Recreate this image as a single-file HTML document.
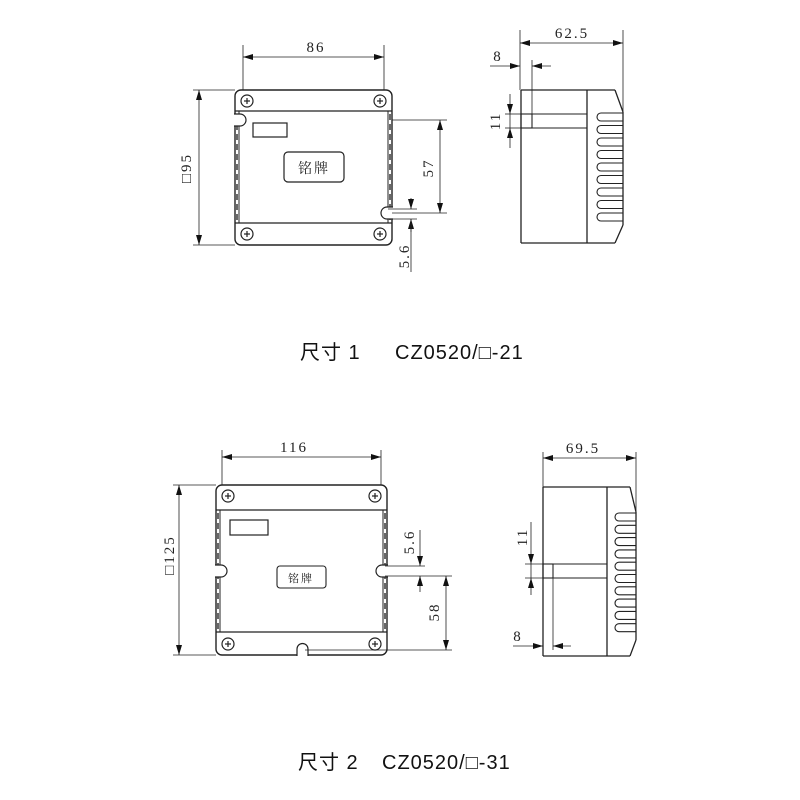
<!DOCTYPE html>
<html><head><meta charset="utf-8"><style>
html,body{margin:0;padding:0;background:#fff;width:800px;height:800px;overflow:hidden}
svg{display:block}
text{font-family:"Liberation Serif","Noto Serif CJK SC",serif;fill:#222}
.cap{font-family:"Liberation Sans","Noto Sans CJK SC",sans-serif;font-size:20px;fill:#111;letter-spacing:1px}
</style></head><body>
<svg id="s" width="800" height="800" viewBox="0 0 800 800" xmlns="http://www.w3.org/2000/svg">
<defs>
<marker id="a" viewBox="0 0 10 6" refX="10" refY="3" markerWidth="10" markerHeight="6" markerUnits="userSpaceOnUse" orient="auto-start-reverse"><path d="M0,0L10,3L0,6z" fill="#111"/></marker>
</defs>
<g id="g" stroke="#222" stroke-width="1" fill="none"></g>
<text class="cap" x="300" y="359">尺寸 1</text>
<text class="cap" x="395" y="359">CZ0520/□-21</text>
<text class="cap" x="298" y="769">尺寸 2</text>
<text class="cap" x="382" y="769">CZ0520/□-31</text>
</svg>
<script>
var g=document.getElementById('g'),s=document.getElementById('s'),NS='http://www.w3.org/2000/svg';
function el(t,a,p){var e=document.createElementNS(NS,t);for(var k in a)e.setAttribute(k,a[k]);(p||g).appendChild(e);return e;}
function L(x1,y1,x2,y2,w){return el('line',{x1:x1,y1:y1,x2:x2,y2:y2,'stroke-width':w||0.8});}
function D(x1,y1,x2,y2){el('line',{x1:x1,y1:y1,x2:x2,y2:y2,'stroke-width':0.8,'marker-start':'url(#a)','marker-end':'url(#a)'});}
function A(x1,y1,x2,y2){el('line',{x1:x1,y1:y1,x2:x2,y2:y2,'stroke-width':0.8,'marker-end':'url(#a)'});}
function T(x,y,t,sz,rot,anchor){var e=el('text',{x:x,y:y,'font-size':sz,'text-anchor':anchor||'middle',stroke:'none','letter-spacing':'2px'},s);if(rot)e.setAttribute('transform','rotate(-90 '+x+' '+y+')');e.textContent=t;}
function screw(x,y){el('circle',{cx:x,cy:y,r:6,'stroke-width':1.2});L(x-3,y,x+3,y,1.2);L(x,y-3,x,y+3,1.2);}
function front(x1,y1,x2,y2,b1,b2){
 el('rect',{x:x1,y:y1,width:x2-x1,height:y2-y1,rx:6,'stroke-width':1.4});
 L(x1,b1,x2,b1,1.2);L(x1,b2,x2,b2,1.2);
 L(x1+4,b1,x1+4,b2,1);L(x2-4,b1,x2-4,b2,1);
 el('line',{x1:x1+2,y1:b1+3,x2:x1+2,y2:b2-2,'stroke-width':1.6,'stroke-dasharray':'6 4',stroke:'#444'});
 el('line',{x1:x2-2,y1:b1+3,x2:x2-2,y2:b2-2,'stroke-width':1.6,'stroke-dasharray':'6 4',stroke:'#444'});
 screw(x1+12,y1+11);screw(x2-12,y1+11);screw(x1+12,y2-11);screw(x2-12,y2-11);
}
function slotL(x,y){el('path',{d:'M'+(x-2)+','+(y-6)+'H'+(x+4)+'A6,6 0 0 1 '+(x+4)+','+(y+6)+'H'+(x-2),'stroke-width':1.2,fill:'#fff'});}
function slotR(x,y){el('path',{d:'M'+(x+2)+','+(y-6)+'H'+(x-4)+'A6,6 0 0 0 '+(x-4)+','+(y+6)+'H'+(x+2),'stroke-width':1.2,fill:'#fff'});}
/* ---- view 1 front ---- */
front(235,90,392,245,111,223);
slotL(236,120);slotR(391,213);
el('rect',{x:253,y:123,width:34,height:14,'stroke-width':1.2});
el('rect',{x:284,y:152,width:60,height:30,rx:4,'stroke-width':1.2});
T(314,173,'铭牌',14,0);
L(243,45,243,90);L(384,45,384,90);D(243,57,384,57);T(316,52,'86',15);
L(193,90,235,90);L(193,245,235,245);D(199,90,199,245);T(191,168,'□95',15,1);
L(392,120,447,120);L(392,213,447,213);D(440,120,440,213);T(433,168,'57',15,1);
L(388,209,417,209);L(388,219,417,219);A(411,198,411,209);A(411,232,411,219);L(411,219,411,272);T(409,256,'5.6',15,1);
/* ---- view 1 side ---- */
L(521,90,587,90,1.3);L(521,243,587,243,1.3);L(521,90,521,243,1.3);L(587,90,587,243,1.3);
L(587,90,615,90,1.3);L(615,90,623,112,1.3);L(623,112,623,225,1.3);L(623,225,615,243,1.3);L(587,243,615,243,1.3);
el('rect',{x:521,y:114,width:11,height:14,'stroke-width':1.1});L(532,114,587,114,1.1);L(532,128,587,128,1.1);
for(var i=0;i<9;i++){var y=113+i*12.5;el('path',{d:'M623,'+y+'H601A4,4 0 0 0 601,'+(y+8)+'H623','stroke-width':1.1});}
L(520,30,520,90);L(623,30,623,112);D(520,43,623,43);T(572,38,'62.5',15);
L(532,60,532,114);A(490,66,520,66);A(551,66,532,66);T(498,61,'8',15);
L(505,114,521,114);L(505,128,521,128);A(510,94,510,114);A(510,148,510,128);L(510,114,510,128);T(500,121,'11',15,1);
/* ---- view 2 front ---- */
front(216,485,387,655,510,632);
slotL(217,571);slotR(386,571);
el('path',{d:'M297,656V649A5.5,5.5 0 0 1 308,649V656','stroke-width':1.2,fill:'#fff'});
el('rect',{x:230,y:520,width:38,height:15,'stroke-width':1.2});
el('rect',{x:277,y:566,width:49,height:22,rx:3,'stroke-width':1.1});
T(301,582,'铭牌',11,0);
L(222,450,222,485);L(381,450,381,485);D(222,457,381,457);T(294,452,'116',15);
L(173,485,216,485);L(173,655,216,655);D(179,485,179,655);T(174,555,'□125',15,1);
L(385,566,425,566);L(385,576,452,576);A(420,530,420,566);A(420,592,420,576);T(414,542,'5.6',15,1);
L(305,650,452,650);D(446,576,446,650);T(439,612,'58',15,1);
/* ---- view 2 side ---- */
L(543,487,607,487,1.3);L(543,656,607,656,1.3);L(543,487,543,656,1.3);L(607,487,607,656,1.3);
L(607,487,630,487,1.3);L(630,487,636,512,1.3);L(636,512,636,640,1.3);L(636,640,630,656,1.3);L(607,656,630,656,1.3);
el('rect',{x:543,y:564,width:10,height:14,'stroke-width':1.1});L(553,564,607,564,1.1);L(553,578,607,578,1.1);
for(var i=0;i<10;i++){var y=513+i*12.3;el('path',{d:'M636,'+y+'H619A4,4 0 0 0 619,'+(y+8)+'H636','stroke-width':1.1});}
L(543,452,543,487);L(636,452,636,512);D(543,458,636,458);T(583,453,'69.5',15);
L(525,564,543,564);L(525,578,543,578);A(531,522,531,564);A(531,595,531,578);L(531,564,531,578);T(527,537,'11',15,1);
L(553,578,553,650);A(513,646,543,646);A(571,646,553,646);T(518,641,'8',15);
</script>
</body></html>
